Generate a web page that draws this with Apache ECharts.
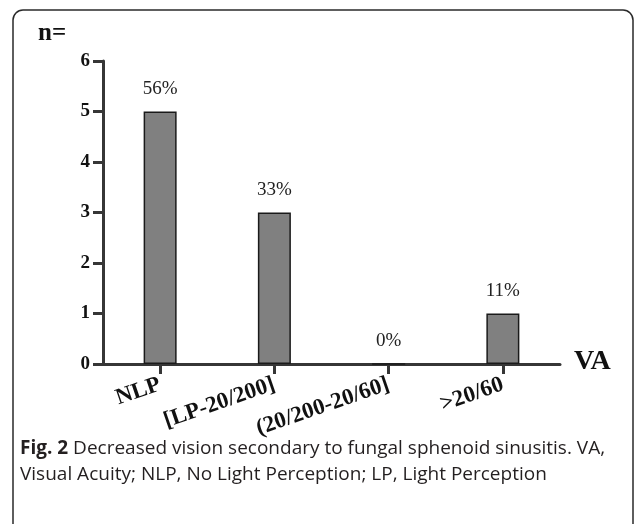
<!DOCTYPE html>
<html>
<head>
<meta charset="utf-8">
<script src="https://cdn.jsdelivr.net/npm/echarts@6/dist/echarts.min.js"></script>
<style>
html,body{margin:0;padding:0;background:#fff;}
#chart{width:634px;height:524px;}
</style>
</head>
<body>
<div id="chart"></div>
<script>
var categories = ['NLP', '[LP-20/200]', '(20/200-20/60]', '>20/60'];
var counts = [5, 3, 0, 1];
var percentLabels = ['56%', '33%', '0%', '11%'];
var yMin = 0, yMax = 6, yStep = 1;
var yTitle = 'n=';
var xTitle = 'VA';
var captionBold = 'Fig. 2';
var captionLine1 = ' Decreased vision secondary to fungal sphenoid sinusitis. VA,';
var captionLine2 = 'Visual Acuity; NLP, No Light Perception; LP, Light Perception';

var serif = '"Liberation Serif", "Times New Roman", serif';
var axisColor = '#363636';

var chart = echarts.init(document.getElementById('chart'), null, {renderer: 'canvas'});
chart.setOption({
  animation: false,
  backgroundColor: '#ffffff',
  grid: {left: 103, right: 74, top: 61, bottom: 160, containLabel: false},
  xAxis: {
    type: 'category',
    data: categories,
    boundaryGap: true,
    axisLine: {show: true, lineStyle: {color: axisColor, width: 3}},
    axisTick: {show: true, alignWithLabel: true, length: 10, lineStyle: {color: axisColor, width: 3}},
    axisLabel: {
      interval: 0, rotate: 19, margin: 20,
      fontFamily: serif, fontWeight: 'bold', fontSize: 23, color: '#111'
    },
    splitLine: {show: false}
  },
  yAxis: {
    type: 'value',
    min: yMin, max: yMax, interval: yStep,
    axisLine: {show: true, lineStyle: {color: axisColor, width: 3}},
    axisTick: {show: true, length: 10, lineStyle: {color: axisColor, width: 3}},
    axisLabel: {margin: 13, fontFamily: serif, fontWeight: 'bold', fontSize: 19, color: '#111'},
    splitLine: {show: false}
  },
  series: [{
    type: 'bar',
    data: counts,
    barWidth: 33,
    itemStyle: {color: '#808080', borderColor: '#1a1a1a', borderWidth: 1.5},
    label: {
      show: true, position: 'top', distance: 13,
      fontFamily: serif, fontSize: 19, color: '#222',
      formatter: function (p) { return percentLabels[p.dataIndex]; }
    }
  }],
  graphic: [
    {type: 'rect', shape: {x: 13, y: 10, width: 620, height: 620, r: 10},
     style: {fill: 'none', stroke: '#2a2a2a', lineWidth: 1.5}, silent: true},
    {type: 'text', left: 38, top: 21,
     style: {text: yTitle, font: 'bold 25px ' + serif, fill: '#111'}},
    {type: 'text', left: 574, top: 348,
     style: {text: xTitle, font: 'bold 28px ' + serif, fill: '#111'}},
    {type: 'text', left: 20, top: 436,
     style: {
       text: '{b|' + captionBold + '}' + captionLine1 + '\n' + captionLine2,
       font: '19px "Open Sans", sans-serif', fill: '#231f20', lineHeight: 26,
       rich: {b: {font: 'bold 19px "Open Sans", sans-serif', fill: '#231f20', lineHeight: 26}}
     }}
  ]
});
</script>
</body>
</html>
